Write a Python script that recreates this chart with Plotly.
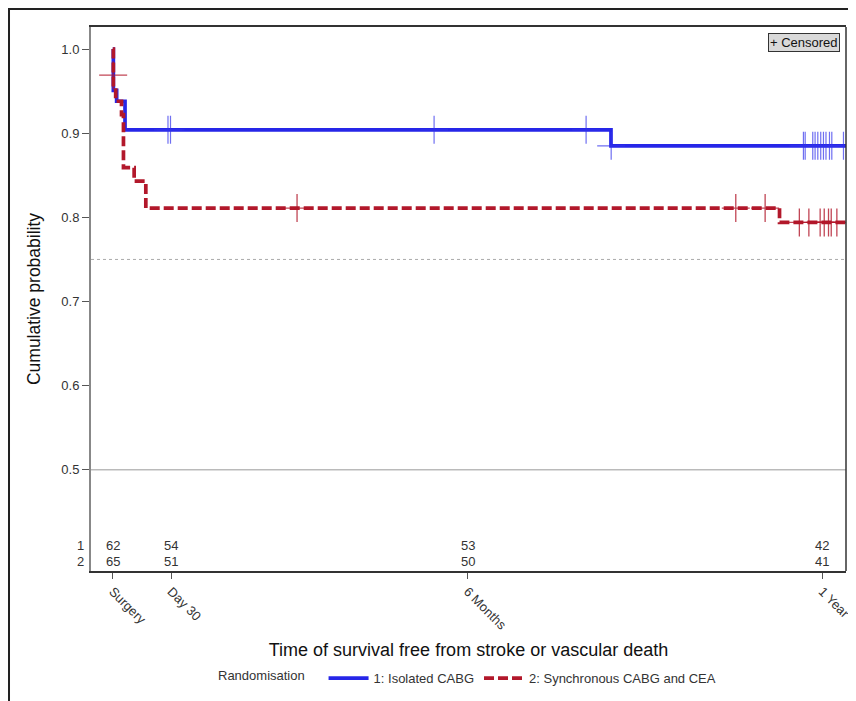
import plotly.graph_objects as go

# ---- data ----
blue_time = [0, 0.3, 2, 6.3, 256.3, 380]
blue_surv = [1.0, 0.951, 0.938, 0.904, 0.885, 0.885]

red_time = [0, 0.3, 1.5, 4.5, 5.5, 11, 17, 343, 380]
red_surv = [1.0, 0.955, 0.938, 0.922, 0.859, 0.843, 0.811, 0.794, 0.794]

blue_cens_time = [28.4, 29.7, 165.3, 243.5, 256.4, 355.3, 356.2, 360.1, 361.3,
                  362.7, 364.2, 365.6, 366.9, 368.7, 369.9, 375.9]
blue_cens_surv = [0.904, 0.904, 0.904, 0.904, 0.885, 0.885, 0.885, 0.885, 0.885,
                  0.885, 0.885, 0.885, 0.885, 0.885, 0.885, 0.885]

red_cens_time = [0.2, 94.8, 320.5, 335.6, 353.2, 358.1, 363.9, 366.0, 368.2, 369.6, 372.5]
red_cens_surv = [0.969, 0.811, 0.811, 0.811, 0.794, 0.794, 0.794, 0.794, 0.794, 0.794, 0.794]

tick_days = [0, 30, 182.5, 365]
tick_labels = ["Surgery", "Day 30", "6 Months", "1 Year"]
risk_group1 = [62, 54, 53, 42]
risk_group2 = [65, 51, 50, 41]

group_names = ["1: Isolated CABG", "2: Synchronous CABG and CEA"]

BLUE = "#2626e8"
RED = "#b2182b"
FONT = "Liberation Sans, Arial, sans-serif"

fig = go.Figure()

fig.add_trace(go.Scatter(
    x=blue_time, y=blue_surv, mode="lines", line_shape="hv",
    line=dict(color=BLUE, width=3.7), name=group_names[0], hoverinfo="skip"))
fig.add_trace(go.Scatter(
    x=red_time, y=red_surv, mode="lines", line_shape="hv",
    line=dict(color=RED, width=3.7, dash="10px,4px"), name=group_names[1], hoverinfo="skip"))

fig.add_trace(go.Scatter(
    x=blue_cens_time, y=blue_cens_surv, mode="markers", showlegend=False,
    marker=dict(symbol="cross-thin", size=20, line=dict(width=1.2, color="rgba(50,50,235,0.7)"))))
fig.add_trace(go.Scatter(
    x=red_cens_time, y=red_cens_surv, mode="markers", showlegend=False,
    marker=dict(symbol="cross-thin", size=20, line=dict(width=1.3, color="rgba(178,24,43,0.8)"))))

# reference lines
fig.add_hline(y=0.75, line=dict(color="#aaaaaa", width=1, dash="3px,3px"))
fig.add_hline(y=0.5, line=dict(color="#999999", width=1))

# numbers at risk
for t, n1, n2 in zip(tick_days, risk_group1, risk_group2):
    fig.add_annotation(x=t, y=0.41, text=str(n1), showarrow=False, xref="x", yref="y",
                       font=dict(size=13, color="#333333", family=FONT))
    fig.add_annotation(x=t, y=0.391, text=str(n2), showarrow=False, xref="x", yref="y",
                       font=dict(size=13, color="#333333", family=FONT))
for lab, yv in (("1", 0.41), ("2", 0.391)):
    fig.add_annotation(x=-0.006, y=yv, text=lab, showarrow=False, xref="paper", yref="y",
                       xanchor="right", font=dict(size=13, color="#333333", family=FONT))

# censored legend box
fig.add_annotation(x=0.992, y=0.989, xref="paper", yref="paper", xanchor="right", yanchor="top",
                   text="+ Censored", showarrow=False, bgcolor="#d9d9d9", bordercolor="#333333",
                   borderwidth=1, borderpad=1, font=dict(size=13, color="#111111", family=FONT))

# right border of the plot wall
fig.add_shape(type="line", xref="paper", yref="paper", x0=1, x1=1, y0=0, y1=1,
              line=dict(color="#333333", width=1.5))
# outer frame of the picture (left and top edges visible)
fig.add_shape(type="rect", xref="paper", yref="paper", x0=-0.1086, x1=1.2, y0=-0.4, y1=1.0331,
              line=dict(color="#222222", width=2), layer="above")

fig.update_layout(
    width=848, height=693,
    margin=dict(l=83, r=10, t=19, b=130, autoexpand=False),
    paper_bgcolor="white", plot_bgcolor="white",
    font=dict(family=FONT, color="#222222"),
    showlegend=True,
    legend=dict(orientation="h", x=0.5, xanchor="center", y=-0.197, yanchor="middle",
                title=dict(text="Randomisation   ", side="left", font=dict(size=13, color="#333333")),
                font=dict(size=13, color="#333333"), itemwidth=40),
    xaxis=dict(range=[-11.2, 377.2], tickvals=tick_days, ticktext=tick_labels, tickangle=45,
               showgrid=False, zeroline=False, showline=True, linecolor="#333333", linewidth=1.5,
               mirror=True, ticks="outside", ticklen=6, tickcolor="#555555",
               tickfont=dict(size=13, color="#333333"),
               title=dict(text="Time of survival free from stroke or vascular death",
                          font=dict(size=18, color="#111111"), standoff=12)),
    yaxis=dict(range=[0.3798, 1.0262], tickvals=[0.5, 0.6, 0.7, 0.8, 0.9, 1.0],
               ticktext=["0.5", "0.6", "0.7", "0.8", "0.9", "1.0"],
               showgrid=False, zeroline=False, showline=True, linecolor="#888888", linewidth=2,
               ticks="outside", ticklen=7, tickcolor="#555555",
               tickfont=dict(size=13, color="#333333"),
               title=dict(text="Cumulative probability", font=dict(size=17.5, color="#111111"), standoff=16)),
)

fig.write_html("out.html")
